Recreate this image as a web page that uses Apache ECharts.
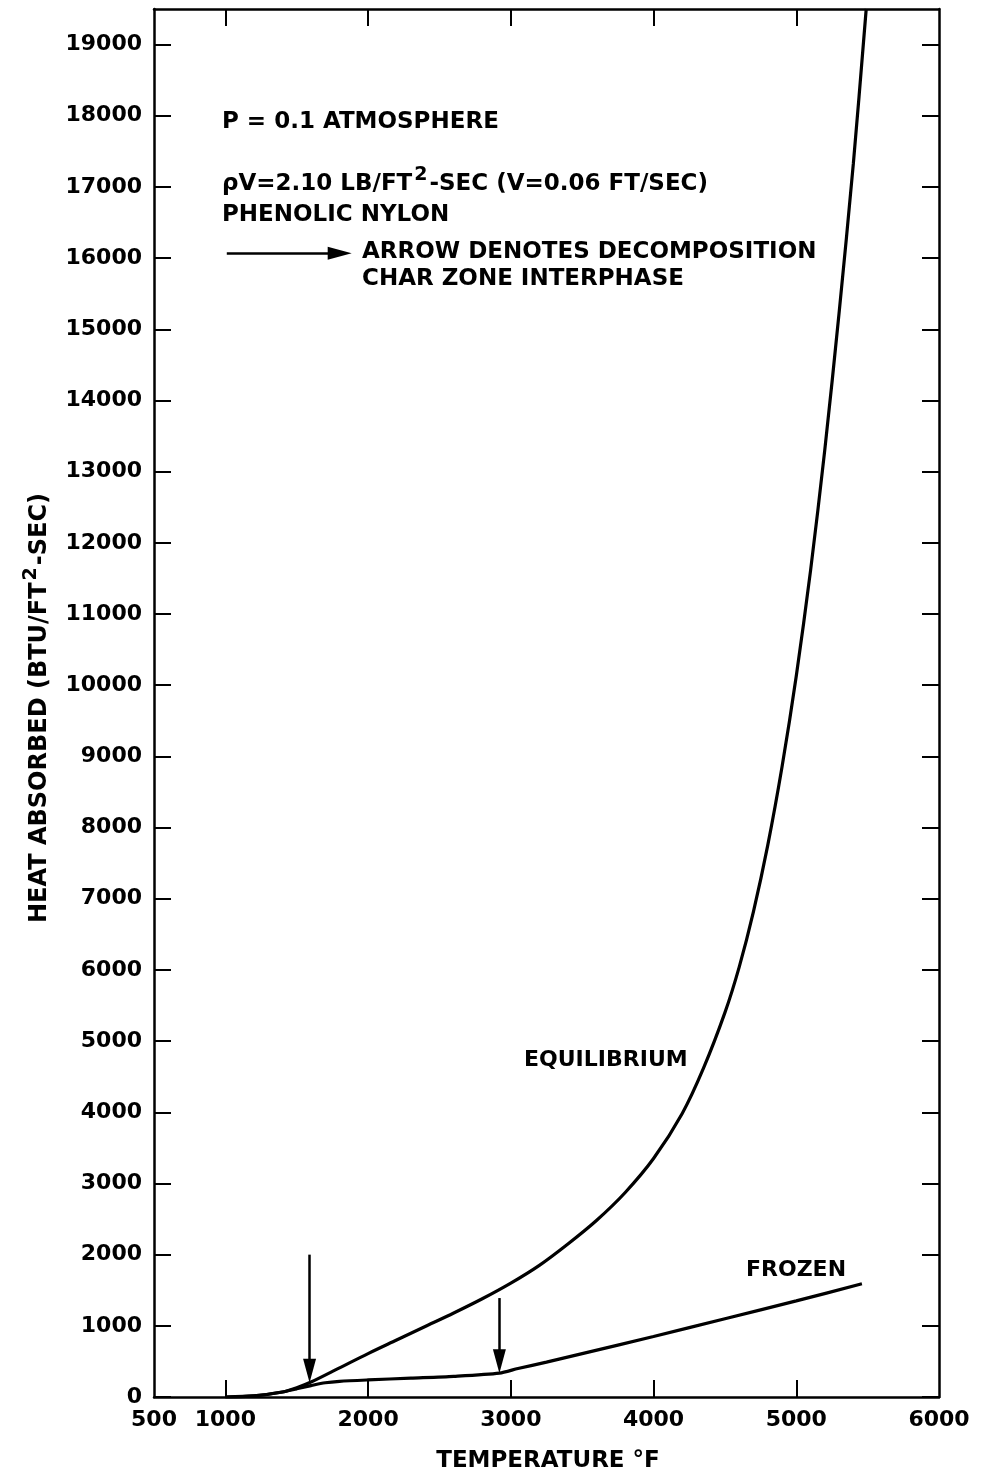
<!DOCTYPE html>
<html>
<head>
<meta charset="utf-8">
<title>Heat Absorbed vs Temperature — Phenolic Nylon</title>
<script src="https://cdn.jsdelivr.net/npm/echarts@6/dist/echarts.min.js"></script>
<style>
  html, body { margin: 0; padding: 0; background: #fff; }
  #chart { width: 987px; height: 1476px; }
</style>
</head>
<body>
<div id="chart"></div>
<script>
// Equilibrium curve: temperature (°F) and heat absorbed (BTU/FT²-SEC)
const eqTemp = [1000, 1200, 1400, 1500, 1600, 1800, 2000, 2200, 2400, 2600, 2800, 3000, 3200, 3400, 3600, 3800, 4000, 4200, 4350, 4500, 4600, 4700, 4800, 4900, 5000, 5100, 5200, 5300, 5400, 5490];
const eqHeat = [0, 15, 70, 130, 210, 410, 610, 800, 990, 1180, 1380, 1600, 1850, 2150, 2480, 2870, 3350, 3980, 4620, 5400, 6040, 6820, 7750, 8850, 10130, 11610, 13310, 15230, 17330, 19500];

// Frozen curve
const frTemp = [1000, 1200, 1400, 1500, 1600, 1700, 1800, 2000, 2300, 2600, 2920, 3050, 3250, 3500, 4000, 4500, 5000, 5460];
const frHeat = [0, 15, 70, 115, 160, 200, 220, 240, 265, 290, 335, 400, 490, 610, 850, 1100, 1350, 1590];

// Decomposition / char zone interphase arrows: [temperature, from heat, tip heat]
const arrowTemp = [1590, 2920];
const arrowFrom = [2000, 1390];
const arrowTip = [200, 335];

// Axis ticks and labels
const xLabels = [500, 1000, 2000, 3000, 4000, 5000, 6000];
const xTicks = [1000, 2000, 3000, 4000, 5000];
const yTicks = [0, 1000, 2000, 3000, 4000, 5000, 6000, 7000, 8000, 9000, 10000,
  11000, 12000, 13000, 14000, 15000, 16000, 17000, 18000, 19000];

const FONT = 'DejaVu Sans';
const INK = '#000';

const chart = echarts.init(document.getElementById('chart'), null, { renderer: 'canvas' });

const pairs = (xs, ys) => xs.map((x, i) => [x, ys[i]]);

// the arrow head is centred on the line end, so pull the end back by half the head
const headLen = 24;
const yPerPx = 19500 / (1476 - 9 - 79);
const xPerPx = 5500 / (987 - 154 - 48);
const arrowLines = arrowTemp.map((t, i) => [
  { coord: [t, arrowFrom[i]] },
  { coord: [t, arrowTip[i] + (headLen / 2) * yPerPx] }
]);
// key arrow beside the notes
const keyY = 16070, keyX0 = 1010, keyTip = 1885;
arrowLines.push([{ coord: [keyX0, keyY] }, { coord: [keyTip - (headLen / 2) * xPerPx, keyY] }]);

const axisCommon = {
  type: 'value',
  axisLine: { show: true, onZero: false, lineStyle: { color: INK, width: 2.5 } },
  splitLine: { show: false },
  axisTick: { show: true, inside: true, length: 17, lineStyle: { color: INK, width: 2 } }
};

const labelStyle = {
  margin: 12, color: INK, fontFamily: FONT, fontWeight: 'bold', fontSize: 22,
  formatter: v => String(v)
};

const textStyle = { fontFamily: FONT, fontWeight: 'bold', fontSize: 23, fill: INK };
const supStyle = { fontFamily: FONT, fontWeight: 'bold', fontSize: 19, padding: [0, 2, 18, 2] };

chart.setOption({
  backgroundColor: '#fff',
  animation: false,
  grid: { left: 154, right: 48, top: 9, bottom: 79 },
  xAxis: [
    Object.assign({}, axisCommon, {
      position: 'bottom', min: 500, max: 6000, interval: 500,
      axisTick: Object.assign({}, axisCommon.axisTick, { customValues: xTicks }),
      axisLabel: Object.assign({ customValues: xLabels }, labelStyle)
    }),
    Object.assign({}, axisCommon, {
      position: 'top', min: 500, max: 6000, interval: 500,
      axisTick: Object.assign({}, axisCommon.axisTick, { customValues: xTicks }),
      axisLabel: { show: false }
    })
  ],
  yAxis: [
    Object.assign({}, axisCommon, {
      position: 'left', min: 0, max: 19500, interval: 500,
      axisTick: Object.assign({}, axisCommon.axisTick, { customValues: yTicks }),
      axisLabel: Object.assign({ customValues: yTicks }, labelStyle)
    }),
    Object.assign({}, axisCommon, {
      position: 'right', min: 0, max: 19500, interval: 500,
      axisTick: Object.assign({}, axisCommon.axisTick, { customValues: yTicks }),
      axisLabel: { show: false }
    })
  ],
  series: [
    {
      name: 'EQUILIBRIUM', type: 'line', xAxisIndex: 0, yAxisIndex: 0,
      data: pairs(eqTemp, eqHeat),
      showSymbol: false, smooth: 0.3,
      lineStyle: { color: INK, width: 3.2 },
      markLine: {
        silent: true,
        symbol: ['none', 'triangle'],
        symbolSize: [13, headLen],
        label: { show: false },
        lineStyle: { color: INK, width: 2.5, type: 'solid' },
        itemStyle: { color: INK },
        data: arrowLines
      }
    },
    {
      name: 'FROZEN', type: 'line', xAxisIndex: 0, yAxisIndex: 0,
      data: pairs(frTemp, frHeat),
      showSymbol: false, smooth: 0.25,
      lineStyle: { color: INK, width: 3.2 }
    }
  ],
  graphic: [
    { type: 'text', x: 222, y: 122, style: Object.assign({}, textStyle, { text: 'P = 0.1 ATMOSPHERE', verticalAlign: 'middle' }) },
    {
      type: 'text', x: 222, y: 184,
      style: Object.assign({}, textStyle, {
        text: 'ρV=2.10 LB/FT{sup|2}-SEC (V=0.06 FT/SEC)', verticalAlign: 'middle',
        rich: { sup: supStyle }
      })
    },
    { type: 'text', x: 222, y: 215, style: Object.assign({}, textStyle, { text: 'PHENOLIC NYLON', verticalAlign: 'middle' }) },
    { type: 'text', x: 362, y: 252, style: Object.assign({}, textStyle, { text: 'ARROW DENOTES DECOMPOSITION', verticalAlign: 'middle' }) },
    { type: 'text', x: 362, y: 279, style: Object.assign({}, textStyle, { text: 'CHAR ZONE INTERPHASE', verticalAlign: 'middle' }) },
    { type: 'text', x: 524, y: 1060, style: Object.assign({}, textStyle, { text: 'EQUILIBRIUM', verticalAlign: 'middle', fontSize: 22 }) },
    { type: 'text', x: 746, y: 1270, style: Object.assign({}, textStyle, { text: 'FROZEN', verticalAlign: 'middle', fontSize: 22 }) },
    { type: 'text', x: 548, y: 1461, style: Object.assign({}, textStyle, { text: 'TEMPERATURE °F', align: 'center', verticalAlign: 'middle' }) },
    {
      type: 'text', x: 40, y: 708, rotation: Math.PI / 2,
      style: Object.assign({}, textStyle, {
        text: 'HEAT ABSORBED (BTU/FT{sup|2}-SEC)', align: 'center', verticalAlign: 'middle', fontSize: 24,
        rich: { sup: supStyle }
      })
    }
  ]
});
</script>
</body>
</html>
